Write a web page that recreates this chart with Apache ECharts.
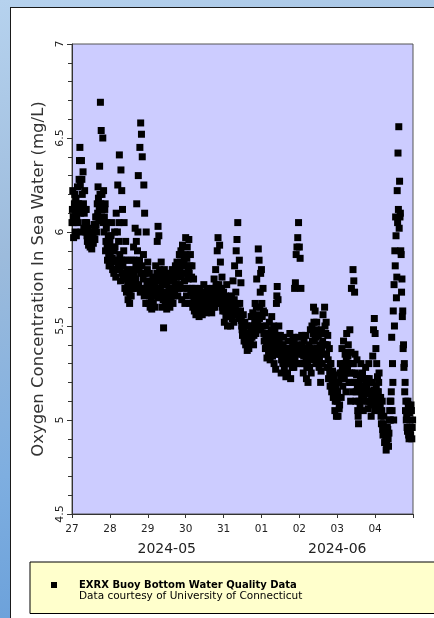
<!DOCTYPE html>
<html>
<head>
<meta charset="utf-8">
<script src="https://cdn.jsdelivr.net/npm/echarts@6/dist/echarts.min.js"></script>
<style>
  html, body { margin:0; padding:0; width:434px; height:618px; overflow:hidden; }
  body { background: linear-gradient(165deg, #b6d2ee 0%, #9cbbdc 35%, #7eaee0 65%, #5f98d6 100%); position:relative; }
  #panel { position:absolute; left:10px; top:7px; width:430px; height:620px; background:#fff; border-left:1px solid #1a1a1a; border-top:1px solid #1a1a1a; }
  #chart { position:absolute; left:0; top:0; width:434px; height:618px; }
</style>
</head>
<body>
<div id="panel"></div>
<div id="chart"></div>
<script>
// Tick labels
const dayLabels = ['27', '28', '29', '30', '31', '01', '02', '03', '04', ''];
const monthLabels = ['2024-05', '2024-06'];
const monthStartDays = [0, 5];
const axisDays = 9;

const seriesName = 'EXRX Buoy Bottom Water Quality Data';
const seriesCredit = 'Data courtesy of University of Connecticut';
const yTitle = 'Oxygen Concentration In Sea Water (mg/L)';

// Dissolved oxygen readings (mg/L): on-the-half-hour readings, one array per day
const may27 = [6.05,6.22,5.97,6.15, 6.00,6.18,6.08,6.24, 6.05,6.28,6.45,6.10, 6.38,6.20,6.32,6.02,
               6.22,6.05,6.12,5.98, 6.02,5.93,5.98,5.92, 5.95,5.91,6.00,5.94, 6.04,5.96,6.08,6.00,
               6.15,6.24,6.06,6.35, 6.69,6.54,6.20,6.50, 6.22,6.08,6.15,5.95, 6.05,5.85,5.98,5.82];
const may28 = [5.95,5.82,6.05,5.86, 5.90,5.78,6.00,5.84, 6.10,5.85,6.25,5.95, 6.41,5.80,6.33,6.22,
               6.12,5.75,6.05,5.70, 5.95,5.68,5.85,5.64, 5.78,5.62,5.72,5.66, 5.85,5.70,5.92,5.78,
               6.02,5.82,6.15,5.90, 6.30,5.80,6.45,6.58, 6.52,6.40,5.75,6.25, 6.10,5.68,6.00,5.72];
const may29 = [5.84,5.62,5.78,5.60, 5.72,5.59,5.68,5.62, 5.75,5.60,5.82,5.66, 5.95,6.03,5.98,5.80,
               5.70,5.84,5.60,5.76, 5.49,5.80,5.62,5.72, 5.59,5.78,5.64,5.70, 5.60,5.76,5.66,5.80,
               5.62,5.74,5.68,5.82, 5.70,5.84,5.66,5.78, 5.88,5.72,5.90,5.64, 5.93,5.70,5.85,5.62];
const may30 = [5.97,5.66,5.92,5.75, 5.96,5.62,5.88,5.70, 5.82,5.60,5.75,5.58, 5.70,5.56,5.66,5.60,
               5.64,5.55,5.70,5.58, 5.68,5.56,5.62,5.72, 5.60,5.66,5.57,5.70, 5.62,5.58,5.68,5.60,
               5.65,5.57,5.70,5.60, 5.75,5.60,5.80,5.66, 5.90,5.97,5.72,5.93, 5.84,5.62,5.76,5.58];
const may31 = [5.68,5.52,5.62,5.55, 5.72,5.50,5.64,5.56, 5.60,5.50,5.66,5.54, 5.74,5.52,5.82,5.60,
               5.90,5.96,6.05,5.78, 5.85,5.55,5.73,5.50, 5.45,5.56,5.42,5.52, 5.40,5.50,5.37,5.46,
               5.38,5.50,5.42,5.55, 5.44,5.57,5.40,5.50, 5.62,5.46,5.75,5.52, 5.91,5.85,5.60,5.78];
const jun01 = [5.80,5.55,5.70,5.46, 5.57,5.38,5.50,5.33, 5.45,5.35,5.52,5.32, 5.42,5.55,5.34,5.45,
               5.30,5.48,5.27,5.62, 5.71,5.64,5.50,5.35, 5.45,5.25,5.40,5.30, 5.44,5.28,5.38,5.23,
               5.35,5.25,5.42,5.30, 5.46,5.22,5.38,5.28, 5.44,5.28,5.70,5.73, 5.88,5.92,5.97,6.05];
const jun02 = [5.92,5.86,5.70,5.45, 5.35,5.25,5.42,5.30, 5.45,5.22,5.36,5.20, 5.40,5.28,5.48,5.25,
               5.50,5.35,5.60,5.42, 5.58,5.30,5.52,5.38, 5.45,5.28,5.40,5.20, 5.48,5.30,5.56,5.35,
               5.60,5.40,5.52,5.28, 5.45,5.22,5.38,5.18, 5.30,5.15,5.26,5.12, 5.22,5.05,5.18,5.02];
const jun03 = [5.10,5.02,5.20,5.08, 5.30,5.12,5.38,5.18, 5.42,5.22,5.35,5.15, 5.46,5.28,5.40,5.20,
               5.48,5.10,5.70,5.30, 5.80,5.74,5.68,5.25, 5.15,5.32,5.05,4.98, 5.20,5.08,5.30,5.12,
               5.25,5.05,5.18,5.10, 5.28,5.14,5.22,5.06, 5.30,5.10,5.20,5.02, 5.15,5.34,5.48,5.54];
const jun04 = [5.46,5.38,5.30,5.23, 5.15,5.25,5.05,5.12, 4.98,5.10,4.92,5.02, 4.88,4.96,4.84,4.90,
               4.95,4.86,5.00,5.10, 5.10,5.44,5.30,5.58, 5.72,5.90,6.08,5.65, 6.22,6.42,6.56,6.27,
               6.10,5.88,5.75,5.58, 5.40,5.30,5.20,5.10, 5.02,4.94,5.08,4.90, 5.00,4.92,5.05,4.96];

// Quarter-past / quarter-to readings (mg/L), one array per day
const may27q = [6.12,6.08,6.05,6.20, 6.10,5.98,6.15,6.12, 6.15,6.38,6.25,6.00, 6.28,6.12,6.15,6.10,
                6.12,6.00,6.05,5.95, 5.97,6.00,5.95,5.96, 5.93,5.96,5.97,6.00, 6.00,6.02,6.04,6.08,
                6.10,6.18,6.12,6.20, 6.15,6.08,6.12,6.05, 6.00,6.12,5.90,6.02, 5.92,5.95,5.88,5.90];
const may28q = [5.88,5.98,5.92,5.80, 5.85,5.90,5.92,5.76, 5.80,6.00,5.82,6.05, 5.88,5.74,5.85,5.78,
                5.82,5.90,5.78,5.85, 5.75,5.80,5.72,5.70, 5.68,5.66,5.75,5.70, 5.76,5.80,5.85,5.72,
                5.75,5.95,5.70,6.00, 5.72,5.85,5.68,5.78, 5.82,5.70,5.88,5.66, 5.78,5.62,5.70,5.80];
const may29q = [5.70,5.74,5.66,5.68, 5.64,5.66,5.76,5.70, 5.68,5.72,5.74,5.78, 5.70,5.65,5.75,5.68,
                5.78,5.66,5.72,5.64, 5.68,5.74,5.66,5.78, 5.72,5.68,5.75,5.62, 5.70,5.64,5.74,5.68,
                5.66,5.78,5.72,5.76, 5.76,5.72,5.80,5.70, 5.80,5.84,5.76,5.82, 5.82,5.78,5.74,5.88];
const may30q = [5.82,5.86,5.70,5.80, 5.78,5.82,5.68,5.76, 5.70,5.66,5.64,5.68, 5.62,5.64,5.58,5.66,
                5.60,5.62,5.64,5.62, 5.60,5.64,5.67,5.65, 5.63,5.60,5.64,5.66, 5.65,5.62,5.63,5.58,
                5.62,5.64,5.66,5.68, 5.68,5.70,5.72,5.62, 5.64,5.68,5.62,5.70, 5.66,5.70,5.60,5.64];
const may31q = [5.60,5.58,5.66,5.60, 5.62,5.56,5.58,5.64, 5.55,5.58,5.60,5.62, 5.58,5.64,5.56,5.68,
                5.56,5.62,5.58,5.54, 5.62,5.58,5.53,5.48, 5.50,5.48,5.46,5.44, 5.44,5.42,5.41,5.40,
                5.44,5.46,5.48,5.45, 5.50,5.47,5.45,5.53, 5.55,5.60,5.48,5.56, 5.50,5.54,5.68,5.48];
const jun01q = [5.62,5.50,5.58,5.42, 5.46,5.44,5.40,5.42, 5.40,5.43,5.38,5.46, 5.48,5.38,5.40,5.50,
                5.38,5.35,5.42,5.66, 5.40,5.45,5.42,5.38, 5.35,5.32,5.36,5.40, 5.34,5.32,5.30,5.36,
                5.30,5.34,5.36,5.38, 5.32,5.30,5.34,5.40, 5.36,5.42,5.32,5.38, 5.30,5.40,5.35,5.44];
const jun02q = [5.38,5.30,5.36,5.40, 5.30,5.34,5.36,5.38, 5.32,5.28,5.30,5.33, 5.34,5.38,5.36,5.32,
                5.42,5.46,5.52,5.38, 5.44,5.48,5.45,5.32, 5.36,5.33,5.30,5.26, 5.38,5.42,5.46,5.40,
                5.50,5.46,5.35,5.40, 5.32,5.28,5.25,5.30, 5.22,5.20,5.18,5.24, 5.14,5.10,5.20,5.15];
const jun03q = [5.15,5.12,5.06,5.25, 5.22,5.25,5.28,5.24, 5.30,5.28,5.25,5.32, 5.36,5.34,5.30,5.25,
                5.20,5.36,5.25,5.15, 5.30,5.20,5.35,5.10, 5.24,5.18,5.02,5.10, 5.15,5.22,5.18,5.24,
                5.14,5.12,5.22,5.16, 5.20,5.18,5.10,5.15, 5.22,5.15,5.08,5.12, 5.20,5.10,5.16,5.05];
const jun04q = [5.12,5.18,5.08,5.15, 5.20,5.10,5.08,5.02, 5.05,4.95,4.98,4.94, 4.92,4.90,4.87,4.96,
                4.90,4.93,5.05,5.00, 5.15,5.05,5.20,5.00, 5.50,5.82,5.98,5.76, 6.05,6.12,6.02,6.08,
                5.90,5.68,5.55,5.38, 5.28,5.15,5.05,5.00, 4.96,5.10,4.92,5.04, 4.94,5.08,4.90,5.00];

const halfHourReadings = [may27, may28, may29, may30, may31, jun01, jun02, jun03, jun04];
const quarterReadings = [may27q, may28q, may29q, may30q, may31q, jun01q, jun02q, jun03q, jun04q];

const points = [];
halfHourReadings.forEach((vals, d) => {
  const n = vals.length;
  vals.forEach((v, k) => {
    points.push([d + k / n, v]);
    points.push([d + (k + 0.5) / n, quarterReadings[d][k]]);
  });
});

const monthCenters = monthStartDays.map((s, i) => (s + (i + 1 < monthStartDays.length ? monthStartDays[i + 1] : axisDays)) / 2);

const FONT = 'DejaVu Sans';
const chart = echarts.init(document.getElementById('chart'), null, { renderer: 'canvas' });
chart.setOption({
  animation: false,
  textStyle: { fontFamily: FONT },
  grid: {
    left: 72, top: 44, right: 21, bottom: 104,
    show: true, backgroundColor: '#ccccff', borderColor: '#555', borderWidth: 1
  },
  xAxis: [
    {
      type: 'value', min: 0, max: axisDays, interval: 1,
      axisLine: { show: true, onZero: false, lineStyle: { color: '#333', width: 1 } },
      axisTick: { show: true, length: 4, lineStyle: { color: '#333' } },
      splitLine: { show: false },
      axisLabel: {
        show: true, margin: 10, fontSize: 10.5, color: '#222', fontFamily: FONT,
        showMinLabel: true, showMaxLabel: true,
        formatter: v => dayLabels[Math.round(v)] || ''
      }
    },
    {
      type: 'value', min: 0, max: axisDays, position: 'bottom', gridIndex: 0,
      axisLine: { show: false }, axisTick: { show: false }, splitLine: { show: false },
      axisLabel: {
        show: true, margin: 28, fontSize: 14, color: '#222', fontFamily: FONT,
        customValues: monthCenters,
        formatter: v => {
          const i = monthCenters.findIndex(c => Math.abs(c - v) < 1e-6);
          return i >= 0 ? monthLabels[i] : '';
        }
      }
    }
  ],
  yAxis: {
    type: 'value', min: 4.5, max: 7, interval: 0.5,
    name: yTitle, nameLocation: 'middle', nameGap: 20, nameRotate: 90,
    nameTextStyle: { fontSize: 16.5, color: '#333', fontFamily: FONT },
    axisLine: { show: true, onZero: false, lineStyle: { color: '#333', width: 1 } },
    axisTick: { show: true, length: 5, lineStyle: { color: '#333' } },
    minorTick: { show: true, splitNumber: 5, length: 4, lineStyle: { color: '#333' } },
    splitLine: { show: false },
    minorSplitLine: { show: false },
    axisLabel: { rotate: 90, margin: 6, fontSize: 11, color: '#222', fontFamily: FONT,
      showMinLabel: true, showMaxLabel: true }
  },
  legend: {
    show: true, left: 30, top: 562,
    backgroundColor: '#ffffcc', borderColor: '#000', borderWidth: 1,
    padding: [18, 220, 12, 21],
    itemWidth: 6, itemHeight: 6, icon: 'rect',
    selectedMode: false,
    data: [seriesName],
    formatter: () => '{b|' + seriesName + '}\n{n|' + seriesCredit + '}',
    textStyle: {
      padding: [11, 0, 0, 17],
      rich: {
        b: { fontFamily: FONT, fontWeight: 'bold', fontSize: 10, lineHeight: 11, color: '#000' },
        n: { fontFamily: FONT, fontSize: 10.5, lineHeight: 11, color: '#000' }
      }
    }
  },
  series: [{
    name: seriesName, type: 'scatter', xAxisIndex: 0, yAxisIndex: 0,
    symbol: 'rect', symbolSize: 7, clip: true,
    itemStyle: { color: '#000', opacity: 1 },
    data: points
  }]
});
</script>
</body>
</html>
